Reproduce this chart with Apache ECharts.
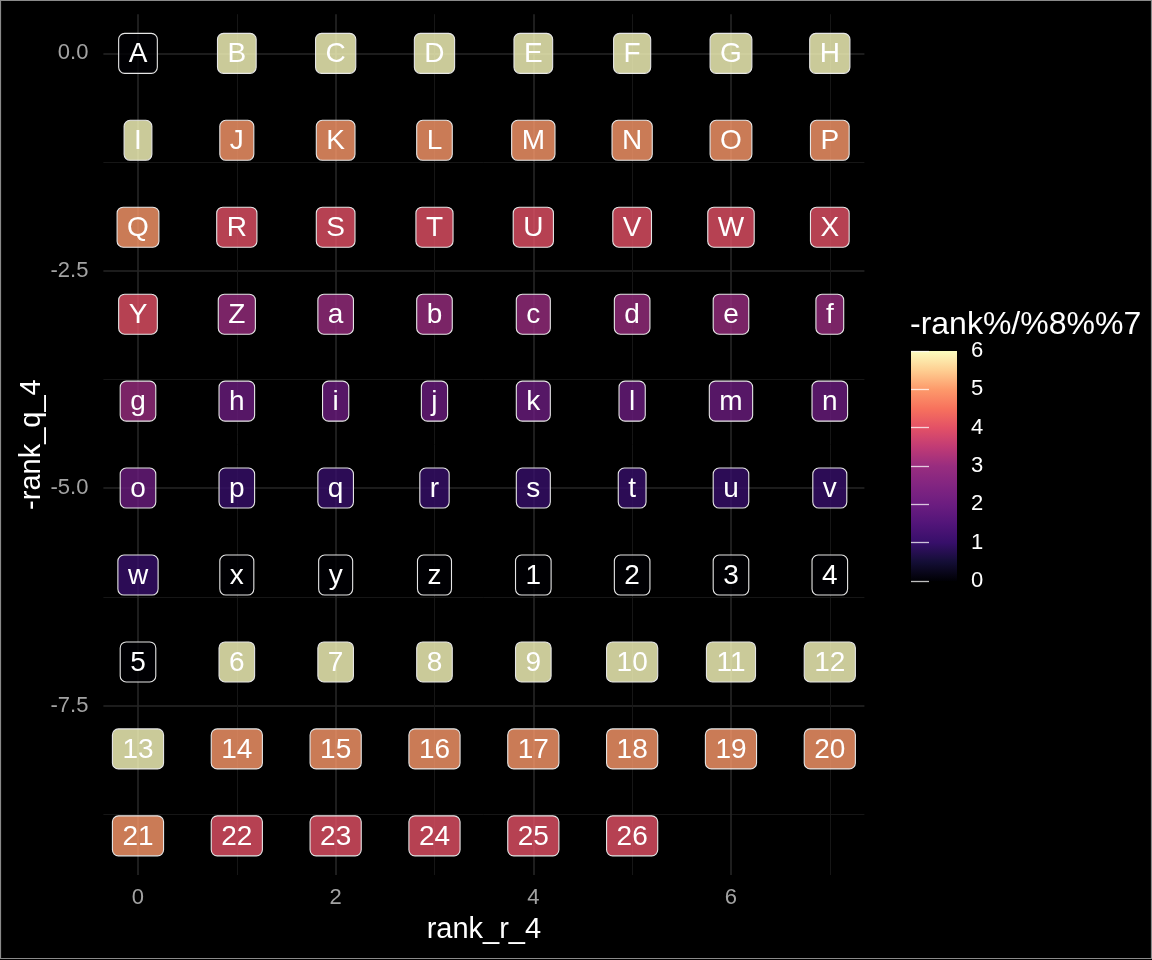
<!DOCTYPE html>
<html>
<head>
<meta charset="utf-8">
<script src="https://cdn.jsdelivr.net/npm/echarts@6/dist/echarts.min.js"></script>
<style>
  html, body { margin: 0; padding: 0; background: #000; }
  #chart { width: 1152px; height: 960px; }
</style>
</head>
<body>
<div id="chart"></div>
<script>
// one label per rank, read left to right, top to bottom
const LABELS = [
  "A","B","C","D","E","F","G","H",
  "I","J","K","L","M","N","O","P",
  "Q","R","S","T","U","V","W","X",
  "Y","Z","a","b","c","d","e","f",
  "g","h","i","j","k","l","m","n",
  "o","p","q","r","s","t","u","v",
  "w","x","y","z","1","2","3","4",
  "5","6","7","8","9","10","11","12",
  "13","14","15","16","17","18","19","20",
  "21","22","23","24","25","26"
];
const RANK_R_4 = [
  0,1,2,3,4,5,6,7, 0,1,2,3,4,5,6,7, 0,1,2,3,4,5,6,7,
  0,1,2,3,4,5,6,7, 0,1,2,3,4,5,6,7, 0,1,2,3,4,5,6,7,
  0,1,2,3,4,5,6,7, 0,1,2,3,4,5,6,7, 0,1,2,3,4,5,6,7,
  0,1,2,3,4,5
];
const NEG_RANK_Q_4 = [
  0,0,0,0,0,0,0,0, -1,-1,-1,-1,-1,-1,-1,-1, -2,-2,-2,-2,-2,-2,-2,-2,
  -3,-3,-3,-3,-3,-3,-3,-3, -4,-4,-4,-4,-4,-4,-4,-4, -5,-5,-5,-5,-5,-5,-5,-5,
  -6,-6,-6,-6,-6,-6,-6,-6, -7,-7,-7,-7,-7,-7,-7,-7, -8,-8,-8,-8,-8,-8,-8,-8,
  -9,-9,-9,-9,-9,-9
];
const FILL_VAL = [
  0,6,6,6,6,6,6,6, 6,5,5,5,5,5,5,5, 5,4,4,4,4,4,4,4,
  4,3,3,3,3,3,3,3, 3,2,2,2,2,2,2,2, 2,1,1,1,1,1,1,1,
  1,0,0,0,0,0,0,0, 0,6,6,6,6,6,6,6, 6,5,5,5,5,5,5,5,
  5,4,4,4,4,4
];

const X_MAJOR = [0, 2, 4, 6];
const X_MINOR = [1, 3, 5, 7];
const Y_MAJOR = [0, -2.5, -5, -7.5];
const Y_MINOR = [-1.25, -3.75, -6.25, -8.75];
const LEGEND_TITLE = "-rank%/%8%%7";

// magma-ish ramp, one stop every half unit from 0 to 6
const FILL_RAMP = ["#000004","#140E36","#370F6A","#521579","#6C1D80","#822581","#992D7F",
                   "#C13B75","#E35166","#F7725D","#FD9A6B","#FECF92","#FCFDBF"];

const FONT = '"Liberation Sans", Arial, sans-serif';
const LABEL_FONT = '28px ' + FONT;
const measureCtx = document.createElement("canvas").getContext("2d");
measureCtx.font = LABEL_FONT;

const data = LABELS.map((l, i) => [RANK_R_4[i], NEG_RANK_Q_4[i], FILL_VAL[i], l]);

const GRID = { left: 103.4, top: 14.2, width: 761, height: 860.8 };
const BAR = { left: 911, top: 351, width: 46, height: 230 };
const TICK_LEN = 9;
const majorLine = { color: "#262626", width: 1.6 };
const minorLine = { color: "#191919", width: 0.9 };
const barTick = () => ({ show: true, inside: false, length: TICK_LEN, lineStyle: { color: "rgba(255,255,255,0.75)", width: 1.3 } });

function renderLabel(params, api) {
  const p = api.coord([api.value(0), api.value(1)]);
  const txt = LABELS[params.dataIndex];
  const w = measureCtx.measureText(txt).width + 20;
  const h = 40;
  return {
    type: "group",
    children: [
      {
        type: "rect",
        shape: { x: p[0] - w / 2, y: p[1] - h / 2, width: w, height: h, r: 6 },
        style: { fill: api.visual("color"), fillOpacity: 0.8, stroke: "#e6e6e6", lineWidth: 1.1 }
      },
      {
        type: "text",
        x: p[0], y: p[1] + 1,
        style: { text: txt, fill: "#fff", font: LABEL_FONT, align: "center", verticalAlign: "middle" }
      }
    ]
  };
}

// colour bar drawn from the same ramp the visualMap uses (top = 6)
const barStops = FILL_RAMP.map((c, i) => ({ offset: 1 - i / (FILL_RAMP.length - 1), color: c })).reverse();

const chart = echarts.init(document.getElementById("chart"));
chart.setOption({
  animation: false,
  backgroundColor: "#000",
  grid: [GRID, BAR],
  xAxis: [
    {
      gridIndex: 0, type: "value", min: -0.35, max: 7.35,
      name: "rank_r_4", nameLocation: "middle", nameGap: 40,
      nameTextStyle: { color: "#fff", fontSize: 29, fontFamily: FONT },
      axisLine: { show: false },
      axisTick: { show: false, customValues: X_MAJOR },
      axisLabel: { customValues: X_MAJOR, color: "#a3a3a3", fontSize: 22, fontFamily: FONT, margin: 12 },
      splitLine: { show: true, lineStyle: majorLine }
    },
    {
      gridIndex: 0, type: "value", min: -0.35, max: 7.35, position: "bottom",
      axisLine: { show: false },
      axisTick: { show: false, customValues: X_MINOR },
      axisLabel: { show: false, customValues: X_MINOR },
      splitLine: { show: true, lineStyle: minorLine }
    },
    { gridIndex: 1, type: "value", min: 0, max: 1, show: false }
  ],
  yAxis: [
    {
      gridIndex: 0, type: "value", min: -9.45, max: 0.45,
      name: "-rank_q_4", nameLocation: "middle", nameGap: 57, nameRotate: 90,
      nameMoveOverlap: false,
      nameTextStyle: { color: "#fff", fontSize: 29, fontFamily: FONT },
      axisLine: { show: false },
      axisTick: { show: false, customValues: Y_MAJOR },
      axisLabel: {
        customValues: Y_MAJOR, color: "#a3a3a3", fontSize: 22, fontFamily: FONT, margin: 15,
        formatter: v => v.toFixed(1)
      },
      splitLine: { show: true, lineStyle: majorLine }
    },
    {
      gridIndex: 0, type: "value", min: -9.45, max: 0.45, position: "left",
      axisLine: { show: false },
      axisTick: { show: false, customValues: Y_MINOR },
      axisLabel: { show: false, customValues: Y_MINOR },
      splitLine: { show: true, lineStyle: minorLine }
    },
    {
      gridIndex: 1, type: "value", min: 0, max: 6, interval: 1,
      position: "right", offset: -TICK_LEN, z: 20,
      axisLine: { show: false },
      axisTick: barTick(),
      axisLabel: { color: "#fff", fontSize: 22, fontFamily: FONT, margin: 14 + TICK_LEN },
      splitLine: { show: false }
    },
    {
      gridIndex: 1, type: "value", min: 0, max: 6, interval: 1,
      position: "left", offset: -TICK_LEN, z: 20,
      axisLine: { show: false },
      axisTick: barTick(),
      axisLabel: { show: false },
      splitLine: { show: false }
    }
  ],
  visualMap: [{
    type: "continuous",
    show: false,
    seriesIndex: 0,
    dimension: 2,
    min: 0, max: 6,
    inRange: { color: FILL_RAMP }
  }],
  graphic: [
    {
      type: "rect", silent: true, z: -10,
      shape: { x: BAR.left, y: BAR.top, width: BAR.width, height: BAR.height },
      style: { fill: new echarts.graphic.LinearGradient(0, 0, 0, 1, barStops) }
    },
    {
      type: "text", left: 910, top: 309,
      style: { text: LEGEND_TITLE, fill: "#fff", font: "32px " + FONT }
    },
    {
      type: "rect", silent: true, z: 100,
      shape: { x: 0.5, y: 0.5, width: 1151, height: 958 },
      style: { fill: "none", stroke: "#8a8a8a", lineWidth: 1.2 }
    }
  ],
  series: [{
    type: "custom",
    xAxisIndex: 0, yAxisIndex: 0,
    renderItem: renderLabel,
    encode: { x: 0, y: 1 },
    data: data
  }]
});
</script>
</body>
</html>
